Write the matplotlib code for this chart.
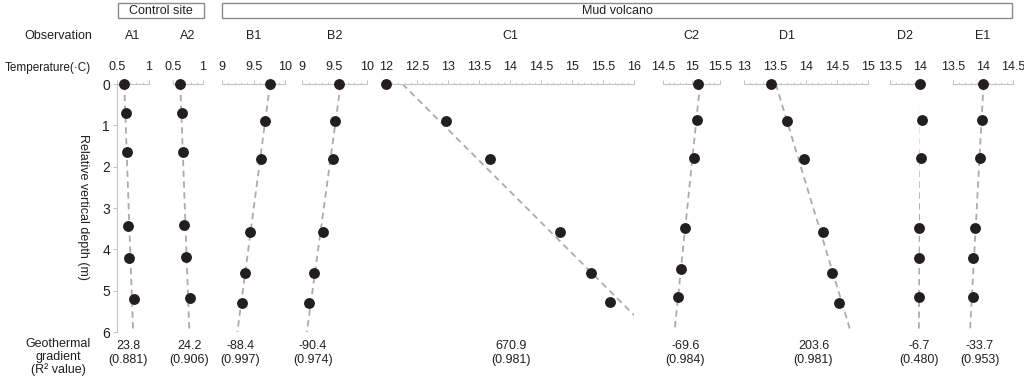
import numpy as np
import matplotlib.pyplot as plt
from matplotlib.patches import Rectangle
from matplotlib.ticker import MultipleLocator
from matplotlib.transforms import blended_transform_factory

plt.rcParams['font.family'] = ['Liberation Sans', 'DejaVu Sans']

# observation sites
sites = ['A1', 'A2', 'B1', 'B2', 'C1', 'C2', 'D1', 'D2', 'E1']

# relative vertical depth (m) of each reading
depth_A1 = [0, 0.71, 1.64, 3.43, 4.22, 5.19]
depth_A2 = [0, 0.71, 1.64, 3.40, 4.19, 5.17]
depth_B1 = [0, 0.90, 1.82, 3.58, 4.58, 5.29]
depth_B2 = [0, 0.90, 1.82, 3.58, 4.58, 5.29]
depth_C1 = [0, 0.90, 1.82, 3.58, 4.57, 5.28]
depth_C2 = [0, 0.87, 1.79, 3.49, 4.47, 5.16]
depth_D1 = [0, 0.90, 1.82, 3.58, 4.58, 5.30]
depth_D2 = [0, 0.87, 1.79, 3.49, 4.20, 5.16]
depth_E1 = [0, 0.87, 1.79, 3.49, 4.20, 5.16]

# temperature (C)
temp_A1 = [0.61, 0.64, 0.66, 0.67, 0.69, 0.76]
temp_A2 = [0.62, 0.65, 0.67, 0.68, 0.71, 0.78]
temp_B1 = [9.76, 9.68, 9.62, 9.45, 9.36, 9.31]
temp_B2 = [9.57, 9.51, 9.47, 9.32, 9.19, 9.11]
temp_C1 = [12.00, 12.97, 13.68, 14.81, 15.31, 15.61]
temp_C2 = [15.12, 15.10, 15.05, 14.88, 14.81, 14.76]
temp_D1 = [13.44, 13.70, 13.97, 14.27, 14.42, 14.54]
temp_D2 = [14.00, 14.03, 14.02, 13.98, 13.99, 13.99]
temp_E1 = [14.00, 13.99, 13.95, 13.86, 13.84, 13.83]

# temperature axis limits per site
temp_min = [0.5, 0.5, 9, 9, 12, 14.5, 13, 13.5, 13.5]
temp_max = [1, 1, 10, 10, 16, 15.5, 15, 14, 14.5]

# geothermal gradient and R2
gradient = ['23.8', '24.2', '-88.4', '-90.4', '670.9', '-69.6', '203.6', '-6.7', '-33.7']
r2 = ['0.881', '0.906', '0.997', '0.974', '0.981', '0.984', '0.981', '0.480', '0.953']

depths = [depth_A1, depth_A2, depth_B1, depth_B2, depth_C1, depth_C2, depth_D1, depth_D2, depth_E1]
temps = [temp_A1, temp_A2, temp_B1, temp_B2, temp_C1, temp_C2, temp_D1, temp_D2, temp_E1]

# layout (pixels of a 1024x383 canvas)
W, H = 1024, 383
panel_left = [117, 173, 222, 302, 386, 663, 744, 890, 953]
panel_right = [149, 203, 285, 367, 634, 720, 868, 920, 1013]
top_px, bottom_px = 84, 332
name_at = [0.75, 0.75, 9.5, 9.5, 14.0, 15.0, 13.7, 13.75, 14.0]
grad_at = [0.67, 0.77, 9.29, 9.17, 14.02, 14.89, 14.12, 13.98, 13.95]

ink = '#231f20'
axis_grey = '#c4c4c4'
line_grey = '#ababab'
fs = 9.0


def fx(x):
    return x / W


def fy(y):
    return 1 - y / H


fig = plt.figure(figsize=(W / 100, H / 100), dpi=100)

for i, site in enumerate(sites):
    l, r = panel_left[i], panel_right[i]
    ax = fig.add_axes([fx(l), fy(bottom_px), (r - l) / W, (bottom_px - top_px) / H])
    ax.set_xlim(temp_min[i], temp_max[i])
    ax.set_ylim(6, 0)
    ax.patch.set_alpha(0)

    # regression line of temperature against depth
    d = np.array(depths[i])
    t = np.array(temps[i])
    a, b = np.polyfit(d, t, 1)
    dd = np.array([0, 6])
    ax.plot(a * dd + b, dd, ls=(0, (3.5, 2.5)), color=line_grey, lw=1.3, zorder=2)
    ax.plot(t, d, 'o', color=ink, ms=6.8, zorder=3, clip_on=False)

    for s in ['right', 'bottom']:
        ax.spines[s].set_visible(False)
    ax.spines['top'].set_color(axis_grey)
    ax.spines['top'].set_linewidth(0.8)
    ax.xaxis.tick_top()
    ax.xaxis.set_major_locator(MultipleLocator(0.5))
    ax.xaxis.set_minor_locator(MultipleLocator(0.1))
    ax.tick_params(axis='x', which='major', length=3, width=0.7, color=axis_grey,
                   labelsize=fs, labelcolor=ink, pad=5)
    ax.tick_params(axis='x', which='minor', length=1.5, width=0.6, color=axis_grey)
    ax.xaxis.set_major_formatter(plt.FuncFormatter(lambda v, p: f'{v:g}'))

    if i == 0:
        ax.spines['left'].set_color(axis_grey)
        ax.spines['left'].set_linewidth(0.8)
        ax.set_yticks(range(7))
        ax.tick_params(axis='y', length=3, width=0.7, color=axis_grey,
                       labelsize=fs + 1, labelcolor=ink, pad=2)
    else:
        ax.spines['left'].set_visible(False)
        ax.set_yticks([])

    # site name above, gradient below
    tr = blended_transform_factory(ax.transData, fig.transFigure)
    ax.text(name_at[i], fy(36), site, transform=tr,
            ha='center', va='center', fontsize=fs, color=ink)
    ax.text(grad_at[i], fy(353), f'{gradient[i]}\n({r2[i]})', transform=tr,
            ha='center', va='center', fontsize=fs, color=ink, linespacing=1.2)

# left side labels
fig.text(fx(92), fy(36), 'Observation', ha='right', va='center', fontsize=fs, color=ink)
fig.text(fx(91), fy(68), 'Temperature(·C)', ha='right', va='center', fontsize=8.5, color=ink)
fig.text(fx(83), fy(207), 'Relative vertical depth (m)', rotation=270, ha='center', va='center',
         fontsize=fs, color=ink)
fig.text(fx(58), fy(357), 'Geothermal\ngradient\n(R² value)', ha='center', va='center',
         fontsize=fs, color=ink, linespacing=1.05)

# group boxes
for x0, x1, label in [(118, 204, 'Control site'), (222, 1012, 'Mud volcano')]:
    fig.patches.append(Rectangle((fx(x0), fy(18)), (x1 - x0) / W, 15 / H, transform=fig.transFigure,
                                 fill=False, edgecolor='#8a8a8a', lw=1))
    fig.text(fx((x0 + x1) / 2), fy(10.5), label, ha='center', va='center', fontsize=fs, color=ink)

fig.savefig('out.png', dpi=100)
